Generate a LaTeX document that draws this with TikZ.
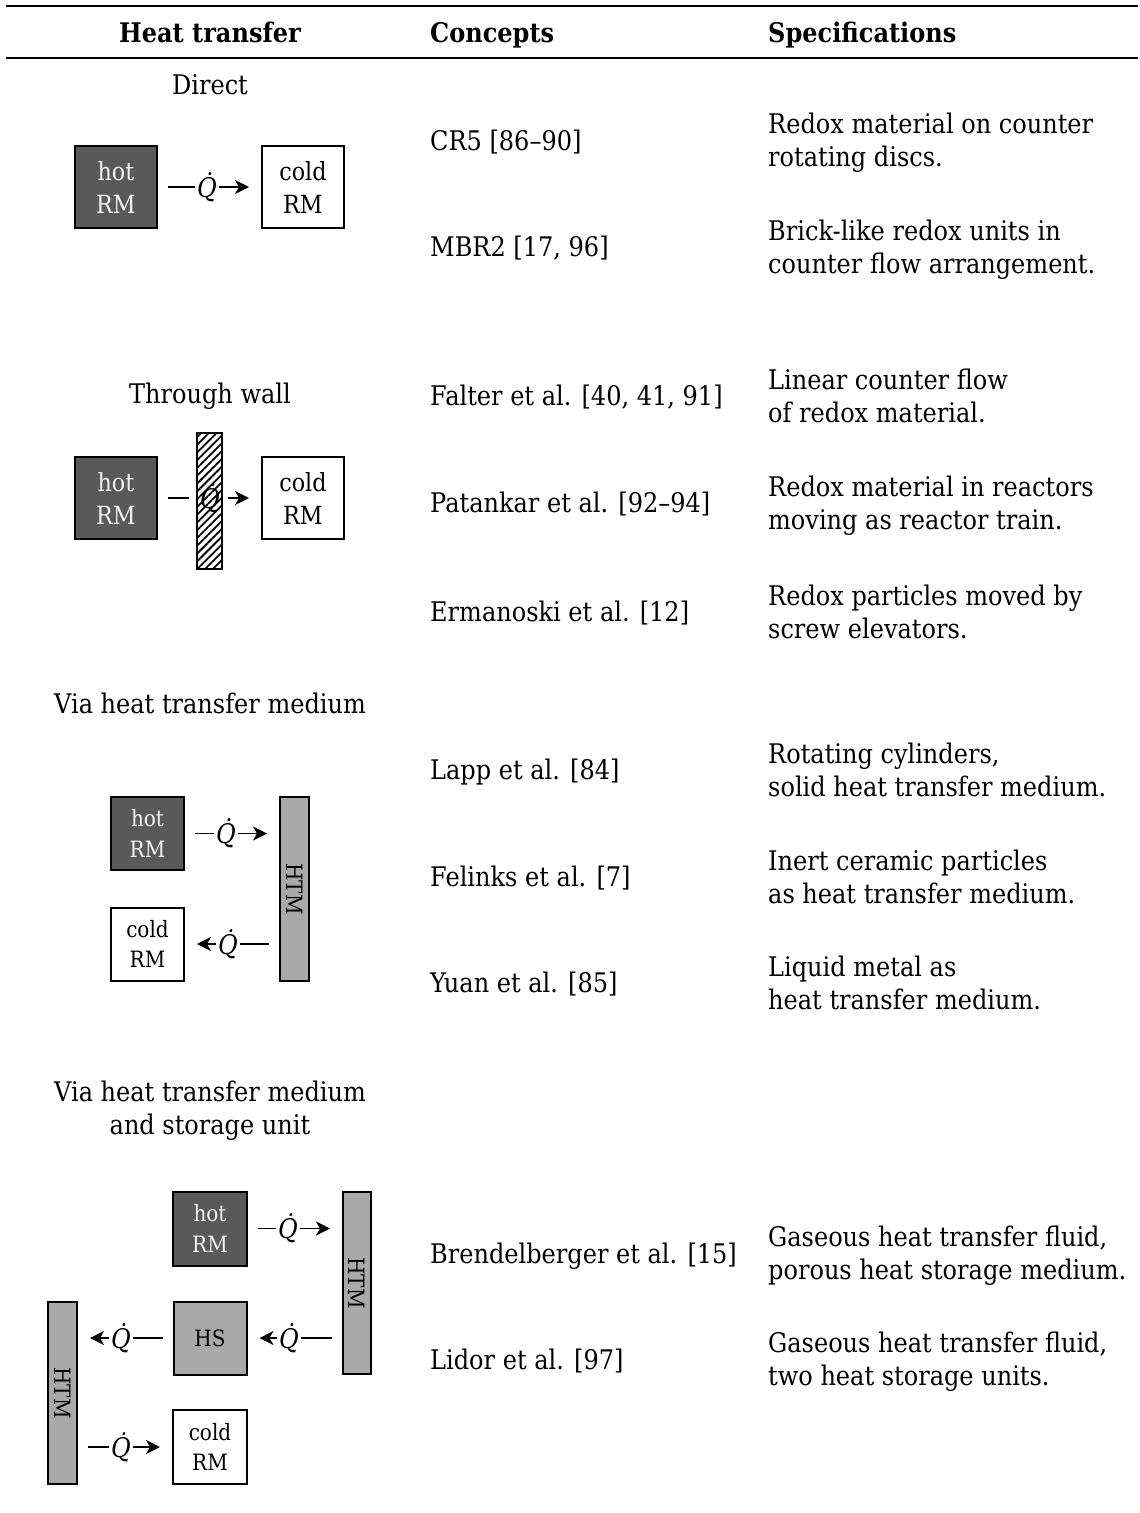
\documentclass[tikz,border=0pt]{standalone}
\usepackage{fontspec}
\setmainfont[FakeStretch=0.89]{DejaVu Serif}
\usetikzlibrary{arrows.meta,patterns.meta}
\definecolor{hotgray}{HTML}{595959}
\definecolor{hottext}{HTML}{F2F2F2}
\definecolor{htmgray}{HTML}{A9A9A9}
\newcommand\qflow{{\itshape\.{Q}}}
\begin{document}
\begin{tikzpicture}[x=1pt,y=-1pt,
  every node/.style={inner sep=0pt},
  body/.style={font=\fontsize{27}{33.3}\selectfont},
  head/.style={font=\fontsize{27}{33.3}\selectfont\bfseries},
  lab/.style={body, anchor=base},
  cpt/.style={body, anchor=base west},
  rmbig/.style={draw, line width=2pt, minimum width=82pt, minimum height=82pt,
    align=center, font=\fontsize{25}{33}\selectfont},
  rmsmall/.style={draw, line width=2pt, minimum width=73pt, minimum height=73pt,
    align=center, font=\fontsize{22.5}{30.5}\selectfont},
  hotbox/.style={fill=hotgray, text=hottext},
  coldbox/.style={fill=white},
  storebox/.style={fill=htmgray},
  medium/.style={draw, line width=2pt, fill=htmgray, minimum width=29pt, minimum height=183pt},
  htmlabel/.style={rotate=-90, font=\fontsize{22.5}{25}\selectfont},
  qlab/.style={font=\fontsize{27}{30}\selectfont, inner xsep=2pt},
  qline/.style={line width=1.8pt, shorten <=10pt},
  qarrow/.style={line width=1.8pt, shorten >=12pt,
    -{Stealth[length=14pt,width=14pt,inset=4pt]}},
]
\useasboundingbox (0,0) rectangle (1140,1513);

% table rules and column heads
\coordinate (rl1) at (6,6);   \coordinate (rr1) at (1138,6);
\coordinate (rl2) at (6,58);  \coordinate (rr2) at (1138,58);
\draw[line width=2pt] (rl1) -- (rr1);
\draw[line width=1.3pt] (rl2) -- (rr2);
\node[head, anchor=base] (h1) at (210,42) {Heat transfer};
\node[head, anchor=base west] (h2) at (430,42) {Concepts};
\node[head, anchor=base west] (h3) at (768,42) {Specifications};

% ---------------- direct ----------------
\node[lab] (tA) at (210,94) {Direct};
\node[rmbig, hotbox] (hotA) at (116,187) {hot\\RM};
\node[rmbig, coldbox] (coldA) at (303,187) {cold\\RM};
\node[qlab] (qA) at (207,187) {\qflow};
\draw[qline] (hotA) -- (qA);
\draw[qarrow] (qA) -- (coldA);

% ---------------- through wall ----------------
\node[lab] (tB) at (210,403) {Through wall};
\node[rmbig, hotbox] (hotB) at (116,498) {hot\\RM};
\node[rmbig, coldbox] (coldB) at (303,498) {cold\\RM};
\node[draw, line width=1.5pt, minimum width=25pt, minimum height=136pt,
  pattern={Lines[angle=45,distance=5.5pt,line width=1.8pt]}] (wallB) at (209.5,501) {};
\node[qlab] (qB) at (210,498) {\qflow};
\draw[qline, shorten >=7pt] (hotB) -- (hotB -| wallB.west);
\draw[qarrow, shorten <=5pt] (coldB -| wallB.east) -- (coldB);

% ---------------- via heat transfer medium ----------------
\node[lab] (tC) at (210,713) {Via heat transfer medium};
\node[rmsmall, hotbox] (hotC) at (147.5,833.5) {hot\\RM};
\node[rmsmall, coldbox] (coldC) at (147.5,944) {cold\\RM};
\node[medium, minimum height=184pt] (htmC) at (294.5,889) {};
\node[htmlabel] (htmCl) at (htmC.center) {HTM};
\node[qlab] (qC1) at (226,833.5) {\qflow};
\node[qlab] (qC2) at (228,944) {\qflow};
\draw[qline] (hotC) -- (qC1);
\draw[qarrow] (qC1) -- (qC1 -| htmC.west);
\draw[qline] (qC2 -| htmC.west) -- (qC2);
\draw[qarrow] (qC2) -- (coldC);

% ---------------- via medium and storage ----------------
\node[lab] (tD1) at (210,1101) {Via heat transfer medium};
\node[lab] (tD2) at (210,1134) {and storage unit};
\node[rmsmall, hotbox, minimum size=74pt] (hotD) at (210,1228.5) {hot\\RM};
\node[rmsmall, storebox, minimum size=73pt] (hsD) at (210,1338) {HS};
\node[rmsmall, coldbox, minimum size=74pt] (coldD) at (210,1447) {cold\\RM};
\node[medium, minimum width=28pt, minimum height=182pt] (htmR) at (357,1283) {};
\node[htmlabel] (htmRl) at (htmR.center) {HTM};
\node[medium, minimum height=182pt] (htmL) at (62.5,1393) {};
\node[htmlabel] (htmLl) at (htmL.center) {HTM};
\node[qlab] (qD1) at (288,1228.5) {\qflow};
\node[qlab] (qD2) at (289,1338) {\qflow};
\node[qlab] (qD3) at (121,1338) {\qflow};
\node[qlab] (qD4) at (121,1447) {\qflow};
\draw[qline] (hotD) -- (qD1);
\draw[qarrow] (qD1) -- (qD1 -| htmR.west);
\draw[qline] (qD2 -| htmR.west) -- (qD2);
\draw[qarrow] (qD2) -- (hsD);
\draw[qline] (hsD) -- (qD3);
\draw[qarrow] (qD3) -- (qD3 -| htmL.east);
\draw[qline] (qD4 -| htmL.east) -- (qD4);
\draw[qarrow] (qD4) -- (coldD);

% ---------------- concepts ----------------
\node[cpt] (c1)  at (430,150)  {CR5 [86–90]};
\node[cpt] (c2)  at (430,256)  {MBR2 [17, 96]};
\node[cpt] (c3)  at (430,405)  {Falter et al. [40, 41, 91]};
\node[cpt] (c4)  at (430,512)  {Patankar et al. [92–94]};
\node[cpt] (c5)  at (430,621)  {Ermanoski et al. [12]};
\node[cpt] (c6)  at (430,779)  {Lapp et al. [84]};
\node[cpt] (c7)  at (430,886)  {Felinks et al. [7]};
\node[cpt] (c8)  at (430,992)  {Yuan et al. [85]};
\node[cpt] (c9)  at (430,1263) {Brendelberger et al. [15]};
\node[cpt] (c10) at (430,1369) {Lidor et al. [97]};

% ---------------- specifications ----------------
\node[cpt] (s1a)  at (768,133)  {Redox material on counter};
\node[cpt] (s1b)  at (768,166)  {rotating discs.};
\node[cpt] (s2a)  at (768,240)  {Brick-like redox units in};
\node[cpt] (s2b)  at (768,273)  {counter flow arrangement.};
\node[cpt] (s3a)  at (768,389)  {Linear counter flow};
\node[cpt] (s3b)  at (768,422)  {of redox material.};
\node[cpt] (s4a)  at (768,496)  {Redox material in reactors};
\node[cpt] (s4b)  at (768,529)  {moving as reactor train.};
\node[cpt] (s5a)  at (768,605)  {Redox particles moved by};
\node[cpt] (s5b)  at (768,638)  {screw elevators.};
\node[cpt] (s6a)  at (768,763)  {Rotating cylinders,};
\node[cpt] (s6b)  at (768,796)  {solid heat transfer medium.};
\node[cpt] (s7a)  at (768,870)  {Inert ceramic particles};
\node[cpt] (s7b)  at (768,903)  {as heat transfer medium.};
\node[cpt] (s8a)  at (768,976)  {Liquid metal as};
\node[cpt] (s8b)  at (768,1009) {heat transfer medium.};
\node[cpt] (s9a)  at (768,1246) {Gaseous heat transfer fluid,};
\node[cpt] (s9b)  at (768,1279) {porous heat storage medium.};
\node[cpt] (s10a) at (768,1352) {Gaseous heat transfer fluid,};
\node[cpt] (s10b) at (768,1385) {two heat storage units.};
\end{tikzpicture}
\end{document}
